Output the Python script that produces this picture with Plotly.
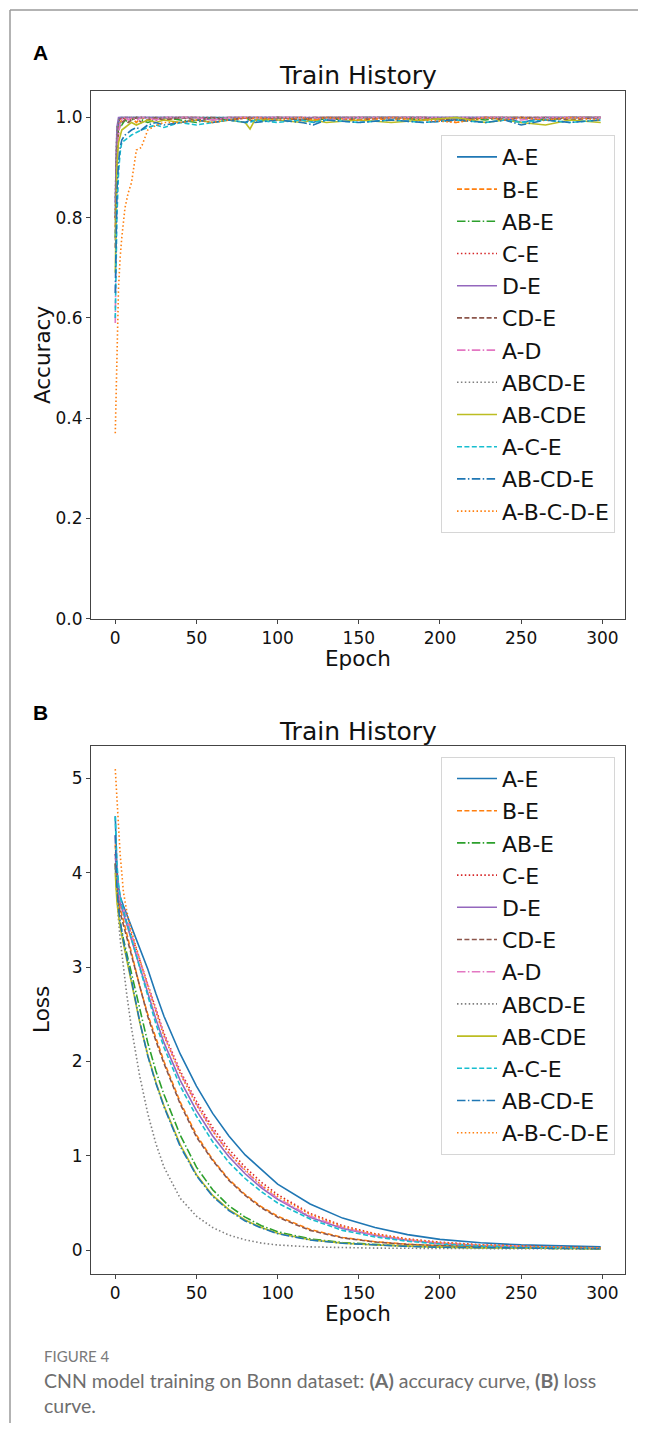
import plotly.graph_objects as go

# page geometry: the browser body has an 8px margin, so the figure is offset by 8px
PAGE_W, PAGE_H = 646, 1441
OFF = 8
W, H = PAGE_W - 2 * OFF, PAGE_H - 2 * OFF

# ---------------- data ----------------
series_names = ["A-E", "B-E", "AB-E", "C-E", "D-E", "CD-E", "A-D", "ABCD-E",
                "AB-CDE", "A-C-E", "AB-CD-E", "A-B-C-D-E"]

acc_epochs = [0, 1, 2, 3, 4, 6, 8, 10, 13, 16, 20, 25, 30, 40, 50, 60, 70, 80, 83, 86,
              100, 115, 122, 130, 150, 170, 190, 210, 228, 240, 250, 265, 280, 299]

acc_AE = [0.80, 0.97, 0.99, 1.0, 1.0, 1.0, 1.0, 1.0, 1.0, 1.0, 1.0, 1.0, 1.0, 1.0, 1.0, 1.0, 1.0,
          1.0, 1.0, 1.0, 1.0, 1.0, 0.99, 1.0, 1.0, 1.0, 1.0, 1.0, 1.0, 1.0, 0.99, 1.0, 1.0, 1.0]
acc_BE = [0.78, 0.95, 0.985, 0.99, 0.995, 1.0, 0.995, 1.0, 0.99, 1.0, 0.995, 1.0, 0.995, 1.0, 1.0,
          0.995, 1.0, 1.0, 1.0, 0.995, 1.0, 1.0, 0.995, 1.0, 1.0, 0.995, 1.0, 0.99, 1.0, 1.0, 1.0,
          0.995, 1.0, 1.0]
acc_ABE = [0.76, 0.94, 0.98, 0.99, 0.985, 0.995, 0.99, 0.995, 1.0, 0.995, 0.99, 0.995, 1.0, 0.995,
           0.99, 1.0, 0.995, 1.0, 0.995, 0.99, 1.0, 0.995, 1.0, 0.995, 1.0, 1.0, 0.995, 1.0, 0.995,
           1.0, 1.0, 0.995, 1.0, 1.0]
acc_CE = [0.80, 0.97, 0.99, 1.0, 0.995, 1.0, 1.0, 0.995, 1.0, 1.0, 1.0, 0.995, 1.0, 1.0, 1.0, 1.0,
          0.995, 1.0, 1.0, 1.0, 1.0, 0.995, 1.0, 1.0, 1.0, 1.0, 1.0, 0.995, 1.0, 1.0, 1.0, 1.0, 1.0, 1.0]
acc_DE = [0.83, 0.98, 1.0, 1.0, 1.0, 1.0, 1.0, 1.0, 1.0, 1.0, 1.0, 1.0, 1.0, 1.0, 1.0, 0.995, 1.0,
          1.0, 1.0, 1.0, 1.0, 1.0, 1.0, 1.0, 1.0, 1.0, 1.0, 1.0, 1.0, 1.0, 1.0, 1.0, 1.0, 1.0]
acc_CDE = [0.74, 0.93, 0.97, 0.985, 0.99, 0.995, 0.99, 0.995, 1.0, 0.99, 0.995, 1.0, 0.995, 1.0,
           0.995, 1.0, 0.995, 1.0, 1.0, 0.995, 1.0, 0.995, 1.0, 1.0, 0.995, 1.0, 1.0, 0.995, 1.0,
           0.995, 1.0, 1.0, 0.995, 1.0]
acc_AD = [0.59, 0.90, 0.97, 0.99, 0.995, 1.0, 0.995, 1.0, 0.995, 1.0, 1.0, 0.995, 1.0, 1.0, 1.0,
          0.995, 1.0, 1.0, 1.0, 1.0, 1.0, 1.0, 1.0, 0.995, 1.0, 1.0, 1.0, 1.0, 1.0, 1.0, 0.995, 1.0,
          1.0, 1.0]
acc_ABCDE = [0.84, 0.98, 0.995, 1.0, 1.0, 1.0, 1.0, 1.0, 1.0, 1.0, 1.0, 1.0, 1.0, 1.0, 1.0, 1.0,
             1.0, 1.0, 1.0, 1.0, 1.0, 1.0, 1.0, 1.0, 1.0, 1.0, 1.0, 1.0, 1.0, 1.0, 1.0, 1.0, 1.0, 1.0]
acc_AB_CDE = [0.69, 0.90, 0.95, 0.965, 0.975, 0.98, 0.985, 0.99, 0.985, 0.99, 0.995, 0.99, 0.995,
              0.99, 0.995, 0.99, 0.995, 0.99, 0.977, 0.995, 0.995, 0.99, 0.995, 0.99, 0.995, 0.99,
              0.995, 1.0, 0.99, 0.995, 0.99, 0.985, 0.995, 0.99]
acc_ACE = [0.60, 0.80, 0.89, 0.93, 0.95, 0.955, 0.96, 0.965, 0.97, 0.975, 0.98, 0.985, 0.98, 0.99,
           0.985, 0.99, 0.995, 0.99, 0.99, 0.995, 0.99, 0.995, 0.99, 0.995, 0.99, 0.995, 0.99,
           0.995, 0.99, 0.995, 0.99, 0.995, 0.99, 0.995]
acc_AB_CD_E = [0.65, 0.85, 0.91, 0.94, 0.955, 0.965, 0.97, 0.975, 0.98, 0.975, 0.985, 0.99, 0.985,
               0.99, 0.995, 0.99, 0.995, 0.99, 0.995, 0.99, 0.995, 0.99, 0.985, 0.995, 0.99, 0.995,
               0.99, 0.995, 0.99, 0.995, 0.985, 0.995, 0.99, 0.995]
acc_A_B_C_D_E = [0.37, 0.50, 0.66, 0.72, 0.76, 0.82, 0.85, 0.87, 0.935, 0.94, 0.975, 0.984, 0.99,
                 0.99, 0.995, 0.99, 0.995, 1.0, 0.995, 1.0, 0.995, 1.0, 0.995, 1.0, 0.995, 1.0,
                 0.995, 0.99, 1.0, 0.995, 1.0, 0.995, 1.0, 0.995]

loss_epochs = [0, 1, 2, 3, 5, 7, 10, 15, 20, 25, 30, 40, 50, 60, 70, 80, 90, 100, 120, 140, 160,
               180, 200, 225, 250, 275, 299]

loss_AE = [4.6, 4.05, 3.85, 3.75, 3.65, 3.56, 3.42, 3.2, 2.98, 2.72, 2.48, 2.08, 1.74, 1.45, 1.21,
           1.01, 0.85, 0.70, 0.49, 0.34, 0.24, 0.165, 0.115, 0.078, 0.056, 0.043, 0.035]
loss_BE = [4.3, 3.9, 3.75, 3.62, 3.5, 3.36, 3.12, 2.8, 2.5, 2.24, 2.0, 1.57, 1.22, 0.96, 0.75, 0.59,
           0.46, 0.36, 0.22, 0.135, 0.09, 0.063, 0.047, 0.036, 0.029, 0.023, 0.019]
loss_ABE = [4.1, 3.75, 3.6, 3.48, 3.3, 3.15, 2.95, 2.55, 2.2, 1.9, 1.65, 1.22, 0.88, 0.64, 0.47,
            0.35, 0.26, 0.195, 0.12, 0.08, 0.058, 0.043, 0.034, 0.027, 0.022, 0.018, 0.016]
loss_CE = [4.2, 3.95, 3.8, 3.7, 3.6, 3.5, 3.33, 3.08, 2.82, 2.55, 2.3, 1.9, 1.58, 1.3, 1.07, 0.88,
           0.72, 0.59, 0.39, 0.26, 0.175, 0.12, 0.085, 0.058, 0.042, 0.032, 0.026]
loss_DE = [4.2, 3.9, 3.78, 3.68, 3.57, 3.46, 3.28, 3.0, 2.72, 2.45, 2.2, 1.8, 1.48, 1.21, 0.99, 0.81,
           0.66, 0.54, 0.35, 0.23, 0.155, 0.105, 0.072, 0.048, 0.034, 0.026, 0.021]
loss_CDE = [4.1, 3.8, 3.68, 3.58, 3.45, 3.32, 3.1, 2.78, 2.48, 2.22, 1.98, 1.55, 1.2, 0.95, 0.74,
            0.58, 0.45, 0.35, 0.21, 0.13, 0.087, 0.061, 0.046, 0.035, 0.028, 0.022, 0.018]
loss_AD = [4.4, 4.0, 3.82, 3.72, 3.62, 3.52, 3.34, 3.07, 2.8, 2.53, 2.28, 1.88, 1.55, 1.27, 1.03,
           0.84, 0.68, 0.55, 0.36, 0.24, 0.16, 0.11, 0.076, 0.052, 0.037, 0.028, 0.022]
loss_ABCDE = [4.05, 3.75, 3.5, 3.3, 3.0, 2.72, 2.35, 1.85, 1.45, 1.13, 0.88, 0.55, 0.36, 0.24, 0.16,
              0.11, 0.075, 0.055, 0.035, 0.027, 0.022, 0.02, 0.018, 0.016, 0.015, 0.014, 0.013]
loss_AB_CDE = [4.0, 3.7, 3.55, 3.43, 3.25, 3.08, 2.85, 2.42, 2.07, 1.78, 1.53, 1.12, 0.8, 0.58,
               0.43, 0.32, 0.24, 0.18, 0.11, 0.075, 0.055, 0.04, 0.032, 0.025, 0.02, 0.017, 0.015]
loss_ACE = [4.6, 4.1, 3.88, 3.75, 3.6, 3.48, 3.28, 2.98, 2.68, 2.4, 2.15, 1.74, 1.42, 1.15, 0.93,
            0.76, 0.62, 0.5, 0.33, 0.21, 0.14, 0.095, 0.066, 0.045, 0.032, 0.025, 0.02]
loss_AB_CD_E = [4.4, 3.85, 3.62, 3.48, 3.28, 3.1, 2.86, 2.43, 2.06, 1.77, 1.52, 1.1, 0.79, 0.57,
                0.42, 0.31, 0.235, 0.175, 0.108, 0.073, 0.053, 0.04, 0.031, 0.025, 0.02, 0.017, 0.015]
loss_A_B_C_D_E = [5.1, 4.75, 4.45, 4.2, 3.8, 3.6, 3.38, 3.08, 2.8, 2.53, 2.27, 1.87, 1.54, 1.26,
                  1.03, 0.85, 0.69, 0.57, 0.38, 0.25, 0.17, 0.115, 0.08, 0.055, 0.04, 0.03, 0.025]

acc_series = [acc_AE, acc_BE, acc_ABE, acc_CE, acc_DE, acc_CDE, acc_AD, acc_ABCDE,
              acc_AB_CDE, acc_ACE, acc_AB_CD_E, acc_A_B_C_D_E]
loss_series = [loss_AE, loss_BE, loss_ABE, loss_CE, loss_DE, loss_CDE, loss_AD, loss_ABCDE,
               loss_AB_CDE, loss_ACE, loss_AB_CD_E, loss_A_B_C_D_E]

x_ticks = [0, 50, 100, 150, 200, 250, 300]
acc_ticks = [0.0, 0.2, 0.4, 0.6, 0.8, 1.0]
loss_ticks = [0, 1, 2, 3, 4, 5]

# ---------------- style ----------------
colors = ["#1f77b4", "#ff7f0e", "#2ca02c", "#d62728", "#9467bd", "#8c564b",
          "#e377c2", "#7f7f7f", "#bcbd22", "#17becf", "#1f77b4", "#ff7f0e"]
DASH_SOLID = "solid"
DASH_DASH = "5px,2.4px"
DASH_DASHDOT = "8.5px,2.4px,1.5px,2.4px"
DASH_DOT = "1.5px,2.4px"
dashes = [DASH_SOLID, DASH_DASH, DASH_DASHDOT, DASH_DOT] * 3
FONT = "DejaVu Sans"

# helpers: page pixel -> paper fraction
def px_x(p):
    return (p - OFF) / W

def px_y(p):
    return 1 - (p - OFF) / H

# plot boxes (page pixels)
X0, X1 = 91, 625
A_TOP, A_BOT = 92, 623
B_TOP, B_BOT = 751, 1283

fig = go.Figure()

for i, name in enumerate(series_names):
    fig.add_trace(go.Scatter(
        x=acc_epochs, y=acc_series[i], mode="lines", name=name,
        line=dict(color=colors[i], dash=dashes[i], width=1.6),
        xaxis="x", yaxis="y", legend="legend", legendgroup="a%d" % i,
        hoverinfo="skip"))
for i, name in enumerate(series_names):
    fig.add_trace(go.Scatter(
        x=loss_epochs, y=loss_series[i], mode="lines", name=name,
        line=dict(color=colors[i], dash=dashes[i], width=1.6),
        xaxis="x2", yaxis="y2", legend="legend2", legendgroup="b%d" % i,
        hoverinfo="skip"))

axis_common = dict(showline=True, mirror=True, linecolor="#444444", linewidth=1,
                   ticks="outside", ticklen=4, tickwidth=1, tickcolor="#444444",
                   showgrid=False, zeroline=False,
                   tickfont=dict(family=FONT, size=17, color="#111111"))

legend_common = dict(xanchor="right", yanchor="top", bgcolor="rgba(255,255,255,0.85)",
                     bordercolor="#d6d6d6", borderwidth=1, tracegroupgap=0.6,
                     itemwidth=40, indentation=10,
                     font=dict(family=FONT, size=22, color="#111111"))

fig.update_layout(
    width=W, height=H, margin=dict(l=0, r=0, t=0, b=0),
    paper_bgcolor="white", plot_bgcolor="white", showlegend=True,
    xaxis=dict(domain=[px_x(X0), px_x(X1)], range=[-14.95, 313.95], anchor="y",
               tickvals=x_ticks, **axis_common),
    yaxis=dict(domain=[px_y(A_BOT), px_y(A_TOP)], range=[0, 1.052], anchor="x",
               tickvals=acc_ticks, tickformat=".1f", **axis_common),
    xaxis2=dict(domain=[px_x(X0), px_x(X1)], range=[-14.95, 313.95], anchor="y2",
                tickvals=x_ticks, **axis_common),
    yaxis2=dict(domain=[px_y(B_BOT), px_y(B_TOP)], range=[-0.253, 5.347], anchor="x2",
                tickvals=loss_ticks, **axis_common),
    legend=dict(x=px_x(615), y=px_y(136), **legend_common),
    legend2=dict(x=px_x(615), y=px_y(762), **legend_common),
)

ann = []
def add_text(text, x, y, size, family=FONT, color="#111111", xanchor="center",
             yanchor="middle", angle=0):
    ann.append(dict(text=text, x=px_x(x), y=px_y(y), xref="paper", yref="paper",
                    showarrow=False, xanchor=xanchor, yanchor=yanchor, textangle=angle,
                    font=dict(family=family, size=size, color=color)))

cx = (X0 + X1) / 2
add_text("Train History", cx, 76, 25)
add_text("Train History", cx, 737, 25)
add_text("Epoch", cx, 663, 21.5)
add_text("Epoch", cx, 1323, 21.5)
add_text("Accuracy", 42, (A_TOP + A_BOT) / 2, 21.5, angle=-90)
add_text("Loss", 42, (B_TOP + B_BOT) / 2, 21.5, angle=-90)
add_text("<b>A</b>", 31, 53, 21, family="Liberation Sans", color="#000000", xanchor="left")
add_text("<b>B</b>", 31, 717, 21, family="Liberation Sans", color="#000000", xanchor="left")
add_text("FIGURE 4", 42, 1366, 15, family="Lato", color="#7a7a7a", xanchor="left")
add_text("CNN model training on Bonn dataset: <b>(A)</b> accuracy curve, <b>(B)</b> loss",
         42, 1390, 19.5, family="Lato", color="#6e6e6e", xanchor="left")
add_text("curve.", 42, 1415, 19.5, family="Lato", color="#6e6e6e", xanchor="left")

fig.update_layout(annotations=ann)

# frame of the figure panel
fig.update_layout(shapes=[
    dict(type="line", xref="paper", yref="paper", x0=px_x(10), x1=1.0, y0=px_y(10), y1=px_y(10),
         line=dict(color="#9a9a9a", width=1.5)),
    dict(type="line", xref="paper", yref="paper", x0=px_x(10), x1=px_x(10), y0=px_y(10), y1=0,
         line=dict(color="#9a9a9a", width=1.5)),
])

fig.write_html("out.html")
